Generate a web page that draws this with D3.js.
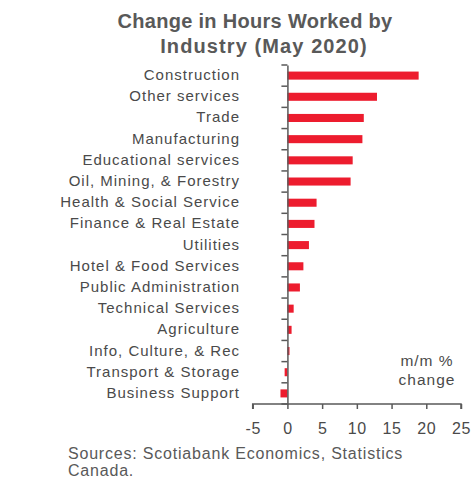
<!DOCTYPE html>
<html>
<head>
<meta charset="utf-8">
<script src="https://cdn.jsdelivr.net/npm/d3@7"></script>
<style>
  html, body { margin: 0; padding: 0; background: #fff; }
  svg { display: block; font-family: "Liberation Sans", Arial, sans-serif; }
</style>
</head>
<body>
<svg id="chart" width="473" height="479"></svg>
<script>
// Month-over-month change in hours worked, by industry (May 2020)
const industries = [
  "Construction", "Other services", "Trade", "Manufacturing",
  "Educational services", "Oil, Mining, & Forestry", "Health & Social Service",
  "Finance & Real Estate", "Utilities", "Hotel & Food Services",
  "Public Administration", "Technical Services", "Agriculture",
  "Info, Culture, & Rec", "Transport & Storage", "Business Support"
];
const changes = [18.9, 12.9, 11.0, 10.8, 9.4, 9.1, 4.2, 3.9, 3.1, 2.3, 1.8, 0.9, 0.6, 0.3, -0.4, -1.0];
const xTicks = [-5, 0, 5, 10, 15, 20, 25];
const titleLines = ["Change in Hours Worked by", "Industry (May 2020)"];
const unitLines = ["m/m %", "change"];
const sourceLines = ["Sources: Scotiabank Economics, Statistics", "Canada."];

const svg = d3.select("#chart");
const grey = "#595959";
const textGrey = "#4a4a4a";
const red = "#ED1C2E";

const x = d3.scaleLinear().domain([-5, 25]).range([252.7, 461]);
const y = d3.scaleBand().domain(industries).range([65, 404]).paddingInner(0.62).paddingOuter(0.31);

// Title, two centred lines
const titleX = [255, 264];
const titleSpacing = [0.3, 1.1];
svg.append("g").selectAll("text").data(titleLines).join("text")
  .attr("x", (d, i) => titleX[i]).attr("y", (d, i) => 28 + i * 24.5)
  .attr("text-anchor", "middle")
  .attr("font-size", 20).attr("font-weight", "bold").attr("fill", grey)
  .attr("letter-spacing", (d, i) => titleSpacing[i])
  .text(d => d);

// Bars
svg.append("g").selectAll("rect").data(industries).join("rect")
  .attr("x", (d, i) => x(Math.min(0, changes[i])))
  .attr("width", (d, i) => Math.abs(x(changes[i]) - x(0)))
  .attr("y", d => y(d))
  .attr("height", y.bandwidth())
  .attr("fill", red);

// Category axis at zero
const yAxis = d3.axisLeft(y).tickSize(0).tickFormat("");
const yg = svg.append("g").attr("transform", `translate(${x(0)},0)`).call(yAxis);
yg.select(".domain").attr("stroke", grey).attr("stroke-width", 1.5);
// tick marks between categories
const [y0, y1] = y.range();
const bounds = d3.range(industries.length + 1).map(i => y0 + i * (y1 - y0) / industries.length);
svg.append("g").selectAll("line").data(bounds).join("line")
  .attr("x1", x(0) - 6).attr("x2", x(0))
  .attr("y1", d => d).attr("y2", d => d)
  .attr("stroke", grey).attr("stroke-width", 1.5);

// Category labels
svg.append("g").selectAll("text").data(industries).join("text")
  .attr("x", 240).attr("y", d => y(d) + y.bandwidth() / 2)
  .attr("dy", "0.3em").attr("text-anchor", "end")
  .attr("font-size", 15).attr("fill", textGrey).attr("letter-spacing", 1)
  .text(d => d);

// Value axis (plain hyphen for negatives)
const xAxis = d3.axisBottom(x).tickValues(xTicks).tickSize(5).tickPadding(14).tickFormat(d => String(d));
const xg = svg.append("g").attr("transform", "translate(0,404)").call(xAxis);
xg.select(".domain").attr("stroke", grey).attr("stroke-width", 1.5).attr("d", `M${x(-5)},5V0H${x(25)}V5`);
xg.selectAll(".tick line").attr("stroke", grey).attr("stroke-width", 1.5);
xg.selectAll(".tick text").attr("font-size", 16).attr("fill", textGrey)
  .attr("letter-spacing", 0.6)
  .attr("font-family", "Liberation Sans, Arial, sans-serif");

// Unit note
svg.append("g").selectAll("text").data(unitLines).join("text")
  .attr("x", 427).attr("y", (d, i) => 366 + i * 19)
  .attr("text-anchor", "middle").attr("font-size", 15.5).attr("fill", textGrey)
  .attr("letter-spacing", 1)
  .text(d => d);

// Sources
svg.append("g").selectAll("text").data(sourceLines).join("text")
  .attr("x", 68).attr("y", (d, i) => 459 + i * 17)
  .attr("font-size", 16).attr("fill", grey).attr("letter-spacing", 0.8)
  .text(d => d);
</script>
</body>
</html>
